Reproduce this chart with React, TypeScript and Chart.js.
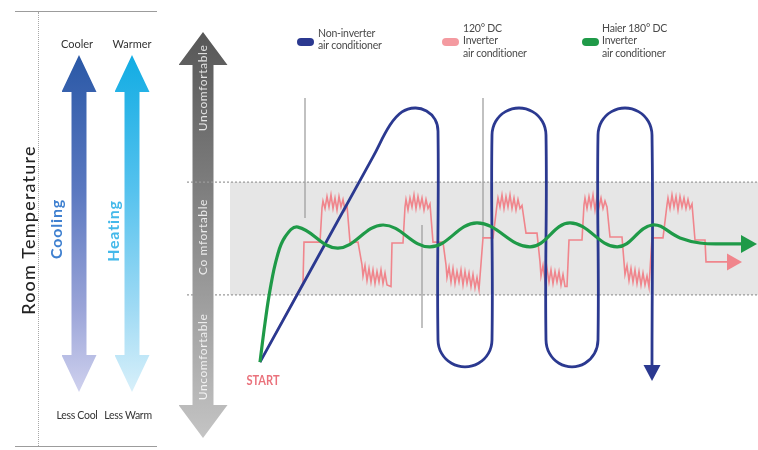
import React, { useEffect, useRef } from "react";
import { Chart, registerables } from "chart.js";

Chart.register(...registerables);

// Horizontal axis: time units; vertical axis: room temperature index
const X_RANGE = [0, 263];
const Y_RANGE = [0, 100];
const COMFORT_LOW = 31.7;
const COMFORT_HIGH = 69.3;
const BAND_FILL_START = -1;
const BAND_LINE_START = -22.5;

const SERIES_NAMES = [
  ["Non-inverter", "air conditioner"],
  ["120° DC", "Inverter", "air conditioner"],
  ["Haier 180° DC", "Inverter", "air conditioner"],
];
const SERIES_COLORS = ["#2b3990", "#f0858c", "#1f9a48"];

const BLUE_POINTS: [number, number][] = [
  [14, 9.3], [70.5, 77.7], [79, 88.3], [85, 92.7], [91.5, 94], [97.25, 93], [101.5, 90.2], [103, 86.3],
  [103, 16.7], [104.8, 12.2], [109.75, 8.9], [116.5, 7.7], [123.25, 8.9], [128.2, 12.2], [130, 16.7],
  [130, 85], [131.8, 89.5], [136.75, 92.8], [143.5, 94], [150.25, 92.8], [155.2, 89.5], [157, 85],
  [157, 16.7], [158.75, 12.2], [163.5, 8.9], [170, 7.7], [176.5, 8.9], [181.25, 12.2], [183, 16.7],
  [183, 85], [184.8, 89.5], [189.75, 92.8], [196.5, 94], [203.25, 92.8], [208.2, 89.5], [210, 85],
  [210, 8],
];

const GREEN_POINTS: [number, number][] = [
  [14, 9.3], [16.5, 22.3], [19, 33.3], [22.5, 44.3], [26.5, 51], [33, 54.3],
  [53, 47.3], [75.5, 55], [99, 47.7], [122.5, 55.7], [149, 47.7], [169, 55.7],
  [192.5, 47.7], [210, 55], [224, 50.7], [234, 49], [246.5, 48.7], [255, 48.7],
];

const PINK_POINTS: [number, number][] = [
  [14, 9.3], [35.5, 35.7], [36, 49.3], [44, 49.3], [45, 60.7],
  [45.5, 63], [46.5, 60.5], [47.5, 64.5], [48.5, 61], [49.5, 65], [50.5, 60.5], [51.5, 64],
  [52.5, 60], [53.5, 64.5], [54.5, 61], [55.5, 63.5], [56.5, 60], [57.5, 61.5],
  [59, 49.3], [63, 49.3], [65, 41.7],
  [65.5, 38], [66.5, 41.5], [67.5, 36.5], [68.5, 40.5], [69.5, 36], [70.5, 40], [71.5, 35.5],
  [72.5, 39.5], [73.5, 36], [74.5, 40], [75.5, 35.5], [76.5, 39], [77.5, 35], [79.5, 34.5],
  [80, 49], [85.5, 49], [86.5, 61],
  [87, 63.5], [88, 60], [89, 64], [90, 61], [91, 65], [92, 60.5], [93, 64.5], [94, 61],
  [95, 64], [96, 60], [97, 63.5], [98, 60.5], [99, 62],
  [100.5, 49.3], [105.5, 49.3], [107, 41.7],
  [107.5, 37.5], [108.5, 41], [109.5, 36], [110.5, 40.5], [111.5, 35.5], [112.5, 39.5], [113.5, 36],
  [114.5, 40], [115.5, 35], [116.5, 39.5], [117.5, 35.5], [118.5, 39], [119.5, 34.5], [120.5, 38.5],
  [121.5, 34], [122.5, 37.5], [123.5, 33.5],
  [125.5, 50.7], [130.5, 50.7], [132.5, 61.7],
  [133, 64], [134, 61], [135, 65], [136, 60.5], [137, 64.5], [138, 61], [139, 65], [140, 60.5],
  [141, 64], [142, 60], [143, 63.5], [144, 60.5], [145, 61.5],
  [147, 52.3], [152.5, 52.3], [154, 42.7],
  [154.5, 38], [155.5, 41.5], [156.5, 36.5], [157.5, 40.5], [158.5, 36], [159.5, 40], [160.5, 35.5],
  [161.5, 39.5], [162.5, 36], [163.5, 39.5], [164.5, 35], [165.5, 38.5], [166.5, 34.5], [167.5, 34.5],
  [168.5, 50], [175, 50], [176, 61.7],
  [176.5, 64], [177.5, 60.5], [178.5, 64.5], [179.5, 61], [180.5, 65], [181.5, 60], [182.5, 64.5],
  [183.5, 61], [184.5, 64], [185.5, 60.5], [186.5, 63], [187.5, 61],
  [189, 51], [195, 51], [196, 42.7],
  [196.5, 38.5], [197.5, 41.5], [198.5, 36.5], [199.5, 40.5], [200.5, 36], [201.5, 40], [202.5, 35.5],
  [203.5, 39.5], [204.5, 35], [205.5, 39], [206.5, 35], [207.5, 38], [208.5, 34.3],
  [210, 50.7], [215.5, 50.7], [217.5, 61.7],
  [218, 64], [219, 60.5], [220, 65], [221, 61], [222, 64.5], [223, 60], [224, 64.5], [225, 61],
  [226, 64], [227, 60.5], [228, 63.5], [229, 60.5], [230, 62],
  [231.5, 50], [236.5, 50], [237, 42.7], [248, 42.7],
];

const GUIDE_X = [36.5, 95, 125.5];
const GUIDE_TOP = [97.3, 55, 97.3];
const GUIDE_BOTTOM = [57.3, 20.7, 50.7];

const toXY = (pts: [number, number][]) => pts.map(([x, y]) => ({ x, y }));

const bandPlugin = {
  id: "comfortBand",
  beforeDatasetsDraw(chart: any) {
    const { ctx, chartArea, scales } = chart;
    const xs = scales.x;
    const ys = scales.y;
    const yTop = ys.getPixelForValue(COMFORT_HIGH);
    const yBot = ys.getPixelForValue(COMFORT_LOW);
    const xFill = xs.getPixelForValue(BAND_FILL_START);
    const xLine = xs.getPixelForValue(BAND_LINE_START);
    ctx.save();
    ctx.fillStyle = "#e6e6e6";
    ctx.fillRect(xFill, yTop, chartArea.right - xFill, yBot - yTop);
    ctx.strokeStyle = "#9a9a9a";
    ctx.lineWidth = 1.3;
    ctx.setLineDash([2, 2]);
    ctx.beginPath();
    ctx.moveTo(xLine, yTop);
    ctx.lineTo(chartArea.right, yTop);
    ctx.moveTo(xLine, yBot);
    ctx.lineTo(chartArea.right, yBot);
    ctx.stroke();
    ctx.restore();
  },
};

const arrowPlugin = {
  id: "arrowHeads",
  afterDatasetsDraw(chart: any) {
    const { ctx } = chart;
    chart.data.datasets.forEach((ds: any, i: number) => {
      const head = ds.arrowHead;
      if (!head) return;
      const pts = chart.getDatasetMeta(i).data;
      const p1 = pts[pts.length - 2];
      const p2 = pts[pts.length - 1];
      const ang = Math.atan2(p2.y - p1.y, p2.x - p1.x);
      ctx.save();
      ctx.translate(p2.x, p2.y);
      ctx.rotate(ang);
      ctx.fillStyle = ds.borderColor;
      ctx.beginPath();
      ctx.moveTo(head.len, 0);
      ctx.lineTo(-1, -head.width / 2);
      ctx.lineTo(-1, head.width / 2);
      ctx.closePath();
      ctx.fill();
      ctx.restore();
    });
  },
};

function DoubleArrow(props: { cx: number; top: number; bottom: number; headW: number; headH: number; shaft: number; bg: string }) {
  const { cx, top, bottom, headW, headH, shaft, bg } = props;
  const H = bottom - top;
  const w = headW;
  const a = w / 2 - shaft / 2;
  const b = w / 2 + shaft / 2;
  const clip = `polygon(${w / 2}px 0px, ${w}px ${headH}px, ${b}px ${headH}px, ${b}px ${H - headH}px, ${w}px ${H - headH}px, ${w / 2}px ${H}px, 0px ${H - headH}px, ${a}px ${H - headH}px, ${a}px ${headH}px, 0px ${headH}px)`;
  return (
    <div
      style={{
        position: "absolute",
        left: cx - w / 2,
        top,
        width: w,
        height: H,
        background: bg,
        clipPath: clip,
      }}
    />
  );
}

function VText(props: { x: number; y: number; style?: any; children: any }) {
  return (
    <div
      style={{
        position: "absolute",
        left: props.x,
        top: props.y,
        transform: "translate(-50%, -50%) rotate(-90deg)",
        whiteSpace: "nowrap",
        lineHeight: 1,
        ...props.style,
      }}
    >
      {props.children}
    </div>
  );
}

function HText(props: { x: number; y: number; style?: any; children: any }) {
  return (
    <div
      style={{
        position: "absolute",
        left: props.x,
        top: props.y,
        transform: "translate(-50%, -50%)",
        whiteSpace: "nowrap",
        lineHeight: 1,
        ...props.style,
      }}
    >
      {props.children}
    </div>
  );
}

export default function App() {
  const canvasRef = useRef<HTMLCanvasElement | null>(null);

  useEffect(() => {
    if (!canvasRef.current) return;
    const guideSets = GUIDE_X.map((x, i) => ({
      label: "guide" + i,
      data: [
        { x, y: GUIDE_TOP[i] },
        { x, y: GUIDE_BOTTOM[i] },
      ],
      showLine: true,
      borderColor: "#a0a0a0",
      borderWidth: 1.3,
      pointRadius: 0,
      tension: 0,
      clip: false,
    }));
    const chart = new Chart(canvasRef.current, {
      type: "scatter",
      data: {
        datasets: [
          {
            label: SERIES_NAMES[2].join(" "),
            data: toXY(GREEN_POINTS),
            showLine: true,
            borderColor: SERIES_COLORS[2],
            borderWidth: 3.2,
            pointRadius: 0,
            tension: 0.4,
            clip: false,
            arrowHead: { len: 15, width: 18 },
          } as any,
          {
            label: SERIES_NAMES[0].join(" "),
            data: toXY(BLUE_POINTS),
            showLine: true,
            borderColor: SERIES_COLORS[0],
            borderWidth: 2.8,
            pointRadius: 0,
            tension: 0.4,
            clip: false,
            arrowHead: { len: 15, width: 17 },
          } as any,
          {
            label: SERIES_NAMES[1].join(" "),
            data: toXY(PINK_POINTS),
            showLine: true,
            borderColor: SERIES_COLORS[1],
            borderWidth: 1.6,
            pointRadius: 0,
            tension: 0,
            clip: false,
            arrowHead: { len: 14, width: 17 },
          } as any,
          ...guideSets,
        ],
      },
      options: {
        animation: false,
        responsive: false,
        maintainAspectRatio: false,
        layout: { padding: { left: 232, right: 0, top: 90, bottom: 60 } },
        scales: {
          x: { type: "linear", min: X_RANGE[0], max: X_RANGE[1], display: false },
          y: { type: "linear", min: Y_RANGE[0], max: Y_RANGE[1], display: false },
        },
        plugins: {
          legend: { display: false },
          tooltip: { enabled: false },
        },
        events: [],
      },
      plugins: [bandPlugin, arrowPlugin],
    });
    return () => chart.destroy();
  }, []);

  const font = "Lato, 'Open Sans', sans-serif";

  return (
    <div
      style={{
        position: "absolute",
        left: 0,
        top: 0,
        width: 758,
        height: 450,
        background: "#ffffff",
        overflow: "hidden",
        fontFamily: font,
      }}
    >
      {/* left panel rules */}
      <div style={{ position: "absolute", left: 15, top: 11, width: 142, height: 0, borderTop: "1.5px solid #9c9c9c" }} />
      <div style={{ position: "absolute", left: 15, top: 446, width: 142, height: 0, borderTop: "1.5px solid #9c9c9c" }} />
      <div style={{ position: "absolute", left: 38, top: 12, width: 0, height: 434, borderLeft: "1.5px dotted #a8a8a8" }} />

      <DoubleArrow cx={79} top={55} bottom={392} headW={35} headH={37} shaft={15}
        bg="linear-gradient(to bottom, #2a58a6 0%, #5a78c0 40%, #9aa4d8 75%, #cfd1ee 100%)" />
      <DoubleArrow cx={132} top={55} bottom={392} headW={35} headH={37} shaft={15}
        bg="linear-gradient(to bottom, #12ace3 0%, #55c2ee 40%, #9fdaf4 75%, #d8f0fa 100%)" />
      <DoubleArrow cx={203} top={32} bottom={438} headW={49} headH={33} shaft={21}
        bg="linear-gradient(to bottom, #575757 0%, #7a7a7a 35%, #9c9c9c 65%, #c4c4c4 100%)" />

      <canvas
        ref={canvasRef}
        width={758}
        height={450}
        style={{ position: "absolute", left: 0, top: 0, width: 758, height: 450, display: "block" }}
      />

      <VText x={28} y={230} style={{ fontSize: 18, color: "#222", letterSpacing: 1.2, fontWeight: 500 }}>Room Temperature</VText>
      <VText x={56} y={229} style={{ fontSize: 16, color: "#3f80d0", fontWeight: 700, letterSpacing: 0.8 }}>Cooling</VText>
      <VText x={113} y={231} style={{ fontSize: 16, color: "#45b9ea", fontWeight: 700, letterSpacing: 0.8 }}>Heating</VText>

      <HText x={77} y={43} style={{ fontSize: 11, color: "#333" }}>Cooler</HText>
      <HText x={132} y={43} style={{ fontSize: 11, color: "#333" }}>Warmer</HText>
      <HText x={77} y={415} style={{ fontSize: 10.5, color: "#333", letterSpacing: -0.3 }}>Less Cool</HText>
      <HText x={128} y={415} style={{ fontSize: 10.5, color: "#333", letterSpacing: -0.3 }}>Less Warm</HText>

      <VText x={203} y={88} style={{ fontSize: 12, color: "rgba(255,255,255,0.82)", letterSpacing: 0.6 }}>Uncomfortable</VText>
      <VText x={203} y={237} style={{ fontSize: 12, color: "rgba(255,255,255,0.82)", letterSpacing: 0.6 }}>Co mfortable</VText>
      <VText x={203} y={357} style={{ fontSize: 12, color: "rgba(255,255,255,0.82)", letterSpacing: 0.6 }}>Uncomfortable</VText>

      <HText x={263} y={380} style={{ fontSize: 13, color: "#ea727c", fontWeight: 700, transform: "translate(-50%, -50%) scaleX(0.85)" }}>START</HText>

      {/* legend */}
      {[
        { sw: 297, tx: 318, top: 26.5 },
        { sw: 442, tx: 463, top: 21.5 },
        { sw: 582, tx: 602, top: 21.5 },
      ].map((p, i) => (
        <React.Fragment key={i}>
          <div
            style={{
              position: "absolute",
              left: p.sw,
              top: 38,
              width: 17,
              height: 8,
              borderRadius: 4,
              background: i === 1 ? "#f49aa0" : SERIES_COLORS[i],
            }}
          />
          <div
            style={{
              position: "absolute",
              left: p.tx,
              top: p.top,
              fontSize: 10.5,
              lineHeight: "12.5px",
              color: "#4a4a4a",
              whiteSpace: "nowrap",
              letterSpacing: -0.2,
            }}
          >
            {SERIES_NAMES[i].map((l, j) => (
              <div key={j}>{l}</div>
            ))}
          </div>
        </React.Fragment>
      ))}
    </div>
  );
}
